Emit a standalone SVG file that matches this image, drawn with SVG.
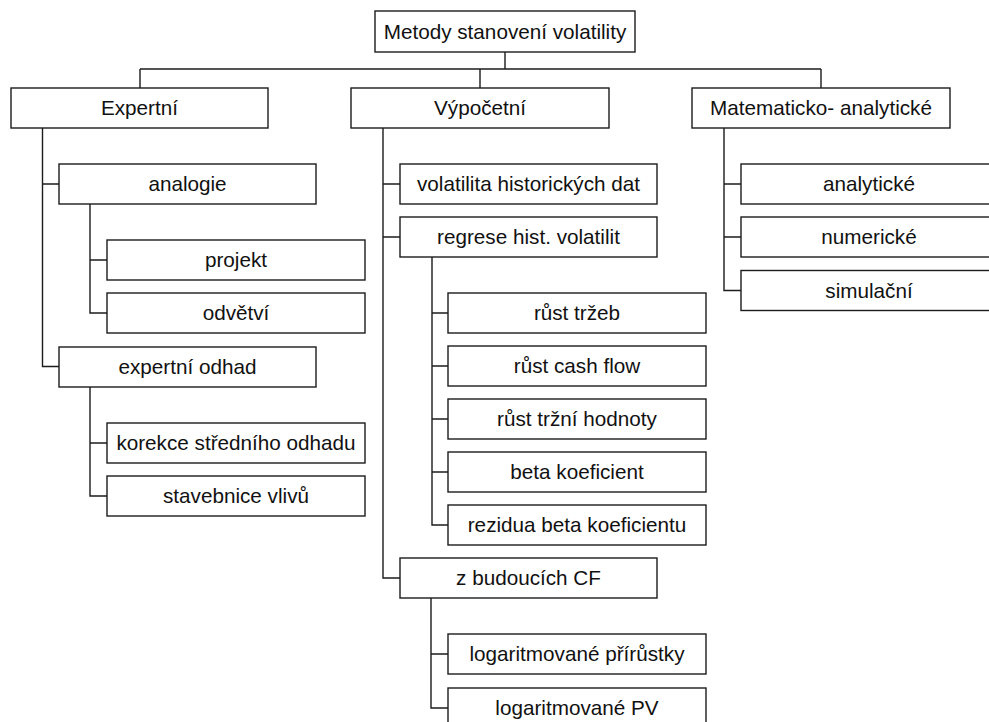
<svg xmlns="http://www.w3.org/2000/svg" width="989" height="722" viewBox="0 0 989 722">
<style>
rect.b{fill:#fff;stroke:#1c1c1c;stroke-width:1.4}
text{font-family:"Liberation Sans",Arial,sans-serif;font-size:20.7px;fill:#111;text-anchor:middle}
.c{fill:none;stroke:#1c1c1c;stroke-width:1.4}
</style>
<rect width="989" height="722" fill="#fff"/>
<g id="connectors" class="c">
<path d="M505 52V69M140 69H821M140 69V88M480 69V88M821 69V88"/>
<path d="M42.5 128V366.5H59M42.5 184H59"/>
<path d="M90 204V313H107M90 260H107"/>
<path d="M90 387V496H107M90 443H107"/>
<path d="M383 128V578H400M383 184H400M383 237H400"/>
<path d="M432 257V525H448M432 313H448M432 366H448M432 419H448M432 472H448"/>
<path d="M431 598V708H448M431 654H448"/>
<path d="M724 128V290.5H741M724 184H741M724 237H741"/>
</g>
<g id="root"><rect class="b" x="375" y="11" width="260" height="41"/><text x="505" y="38.5">Metody stanovení volatility</text></g>
<g id="expertni"><rect class="b" x="11" y="88" width="257" height="40"/><text x="139.5" y="115">Expertní</text></g>
<g id="vypocetni"><rect class="b" x="351" y="88" width="258" height="40"/><text x="480" y="115">Výpočetní</text></g>
<g id="matematicko"><rect class="b" x="692" y="88" width="258" height="40"/><text x="821" y="115">Matematicko- analytické</text></g>
<g id="analogie"><rect class="b" x="59" y="164" width="257" height="40"/><text x="187.5" y="191">analogie</text></g>
<g id="projekt"><rect class="b" x="107" y="240" width="258" height="40"/><text x="236" y="267">projekt</text></g>
<g id="odvetvi"><rect class="b" x="107" y="293" width="258" height="40"/><text x="236" y="320">odvětví</text></g>
<g id="expertni-odhad"><rect class="b" x="59" y="347" width="257" height="40"/><text x="187.5" y="374">expertní odhad</text></g>
<g id="korekce"><rect class="b" x="107" y="423" width="258" height="40"/><text x="236" y="450">korekce středního odhadu</text></g>
<g id="stavebnice"><rect class="b" x="107" y="476" width="258" height="40"/><text x="236" y="503">stavebnice vlivů</text></g>
<g id="volatilita"><rect class="b" x="400" y="164" width="257" height="40"/><text x="528.5" y="191">volatilita historických dat</text></g>
<g id="regrese"><rect class="b" x="400" y="217" width="257" height="40"/><text x="528.5" y="244">regrese hist. volatilit</text></g>
<g id="rust-trzeb"><rect class="b" x="448" y="293" width="258" height="40"/><text x="577" y="320">růst tržeb</text></g>
<g id="rust-cf"><rect class="b" x="448" y="346" width="258" height="40"/><text x="577" y="373">růst cash flow</text></g>
<g id="rust-hodnoty"><rect class="b" x="448" y="399" width="258" height="40"/><text x="577" y="426">růst tržní hodnoty</text></g>
<g id="beta"><rect class="b" x="448" y="452" width="258" height="40"/><text x="577" y="479">beta koeficient</text></g>
<g id="rezidua"><rect class="b" x="448" y="505" width="258" height="40"/><text x="577" y="532">rezidua beta koeficientu</text></g>
<g id="budoucich-cf"><rect class="b" x="400" y="558" width="257" height="40"/><text x="528.5" y="585">z budoucích CF</text></g>
<g id="log-prirustky"><rect class="b" x="448" y="634" width="258" height="40"/><text x="577" y="661">logaritmované přírůstky</text></g>
<g id="log-pv"><rect class="b" x="448" y="688" width="258" height="40"/><text x="577" y="715">logaritmované PV</text></g>
<g id="analyticke"><rect class="b" x="741" y="164" width="258" height="40"/><text x="869" y="191">analytické</text></g>
<g id="numericke"><rect class="b" x="741" y="217" width="258" height="40"/><text x="869" y="244">numerické</text></g>
<g id="simulacni"><rect class="b" x="741" y="270.5" width="258" height="40"/><text x="869" y="297.5">simulační</text></g>
</svg>
